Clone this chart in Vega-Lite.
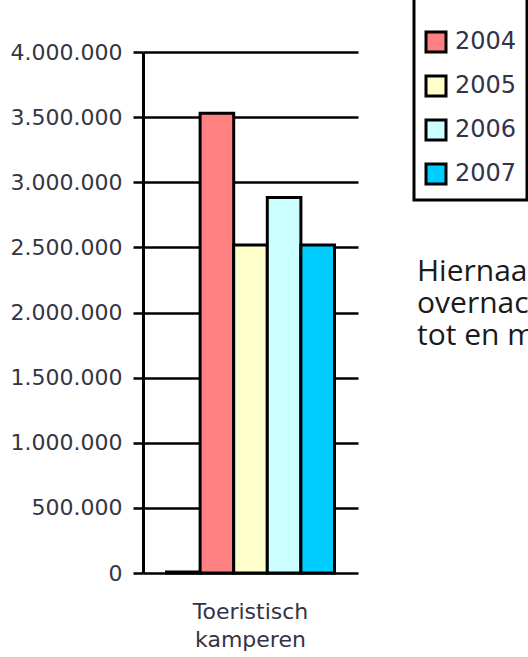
{
  "$schema": "https://vega.github.io/schema/vega-lite/v6.json",
  "width": 215,
  "height": 521,
  "autosize": {"type": "none"},
  "padding": {"left": 143, "top": 52, "right": 170, "bottom": 84},
  "background": "white",
  "config": {
    "view": {"stroke": null},
    "locale": {"number": {"decimal": ",", "thousands": ".", "grouping": [3], "currency": ["€", ""]}}
  },
  "data": {
    "values": [
      {"categorie": "Toeristisch kamperen", "jaar": "2003", "overnachtingen": 8000},
      {"categorie": "Toeristisch kamperen", "jaar": "2004", "overnachtingen": 3530000},
      {"categorie": "Toeristisch kamperen", "jaar": "2005", "overnachtingen": 2518000},
      {"categorie": "Toeristisch kamperen", "jaar": "2006", "overnachtingen": 2882000},
      {"categorie": "Toeristisch kamperen", "jaar": "2007", "overnachtingen": 2518000}
    ]
  },
  "title": {
    "text": ["Hiernaast zie je het aantal", "overnachtingen in Nederland", "tot en met 2007"],
    "orient": "top",
    "anchor": "start",
    "frame": "group",
    "baseline": "top",
    "dx": 274,
    "dy": 376,
    "font": "Open Sans",
    "fontSize": 30,
    "fontWeight": "normal",
    "lineHeight": 32,
    "color": "#1a1a1a"
  },
  "mark": {"type": "bar", "stroke": "black", "strokeWidth": 3},
  "encoding": {
    "x": {
      "field": "categorie",
      "type": "nominal",
      "scale": {"paddingOuter": 0.14, "paddingInner": 0},
      "axis": {
        "title": null,
        "domain": false,
        "ticks": false,
        "labelAngle": 0,
        "labelFont": "DejaVu Sans",
        "labelFontSize": 22,
        "labelColor": "#333345",
        "labelPadding": 28,
        "labelLineHeight": 28,
        "labelExpr": "split(datum.label, ' ')"
      }
    },
    "xOffset": {
      "field": "jaar",
      "type": "nominal",
      "scale": {"paddingInner": 0, "paddingOuter": 0}
    },
    "y": {
      "field": "overnachtingen",
      "type": "quantitative",
      "scale": {"domain": [0, 4000000], "nice": false},
      "axis": {
        "title": null,
        "values": [0, 500000, 1000000, 1500000, 2000000, 2500000, 3000000, 3500000, 4000000],
        "format": ",d",
        "domainColor": "black",
        "domainWidth": 3,
        "tickColor": "black",
        "tickWidth": 2.5,
        "tickSize": 10,
        "gridColor": "black",
        "gridWidth": 2.5,
        "gridOpacity": 1,
        "labelFont": "DejaVu Sans",
        "labelFontSize": 22,
        "labelColor": "#353545",
        "labelPadding": 11
      }
    },
    "color": {
      "field": "jaar",
      "type": "nominal",
      "scale": {
        "domain": ["2003", "2004", "2005", "2006", "2007"],
        "range": ["#9999FF", "#FF8080", "#FFFFCC", "#CCFFFF", "#00CCFF"]
      },
      "legend": {
        "values": ["2004", "2005", "2006", "2007"],
        "orient": "none",
        "legendX": 271,
        "legendY": -72,
        "title": " ",
        "titleFontSize": 20,
        "titlePadding": 20,
        "padding": 10,
        "strokeColor": "black",
        "fillColor": "white",
        "symbolType": "square",
        "symbolSize": 400,
        "symbolStrokeColor": "black",
        "symbolStrokeWidth": 3,
        "symbolOpacity": 1,
        "labelFont": "DejaVu Sans",
        "labelFontSize": 24,
        "labelColor": "#33334d",
        "labelOffset": 7,
        "rowPadding": 12,
        "labelLimit": 300,
        "encode": {"legend": {"update": {"strokeWidth": {"value": 3}}}}
      }
    }
  }
}
